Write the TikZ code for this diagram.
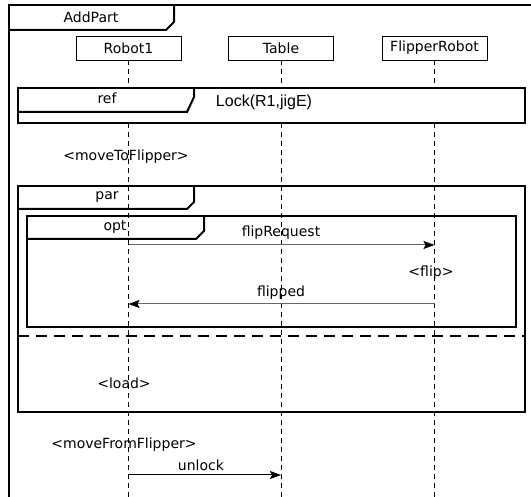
\documentclass[tikz,border=0pt]{standalone}
\usepackage{fontspec}
\setmainfont{DejaVu Sans}
\newfontfamily\lockfont{Liberation Sans}
\usetikzlibrary{arrows.meta}

\tikzset{
  lbl/.style={inner sep=0pt, font=\fontsize{14}{16}\selectfont},
  heavy/.style={line width=2pt},
  lifebox/.style={draw, line width=0.8pt, minimum width=105pt, minimum height=24pt,
    inner sep=0pt, font=\fontsize{14}{16}\selectfont, fill=white},
  lifeline/.style={line width=0.8pt, dash pattern=on 5pt off 4pt},
  msg/.style={draw=black!60, line width=1pt,
    -{Stealth[length=11pt, width=8pt, inset=2pt, color=black]}},
  sepline/.style={line width=2pt, dash pattern=on 11pt off 7pt}
}

\begin{document}
\begin{tikzpicture}[x=1pt, y=-1pt]
\useasboundingbox (0,0) rectangle (531,497);
\clip (0,0) rectangle (531,497);

% outer interaction frame and its name tab
\draw[heavy] (9,500) -- (9,5) -- (540,5);
\draw[heavy] (9,30) -- (166,30) -- (174,22) -- (174,5);
\node[lbl] (addpart) at (91,17) {AddPart};

% lifeline heads
\node[lifebox] (r1) at (128.5,48) {Robot1};
\node[lifebox] (tb) at (281,48) {Table};
\node[lifebox] (fr) at (434.5,48) {FlipperRobot};

% lifelines
\coordinate (bottom) at (0,500);
\draw[lifeline] (r1.south) -- (r1.south |- bottom);
\draw[lifeline] (tb.south) -- (tb.south |- bottom);
\draw[lifeline] (fr.south) -- (fr.south |- bottom);

% ref fragment
\draw[heavy, fill=white] (18,88) rectangle (525,123);
\draw[heavy] (18,112) -- (187,112) -- (194,97) -- (194,88);
\node[lbl] (reflbl) at (107,98) {ref};
\node[inner sep=0pt, font=\lockfont\fontsize{16}{18}\selectfont] (lock) at (264,102) {Lock(R1,jigE)};

\node[lbl] (mtf) at (126,157) {<moveToFlipper>};

% par fragment
\draw[heavy] (18,186) rectangle (525,412);
\draw[heavy] (18,209) -- (187,209) -- (194,202) -- (194,186);
\node[lbl] (parlbl) at (107,197) {par};
\draw[sepline] (18,336) -- (525,336);

% opt fragment
\draw[heavy] (27,216) rectangle (516,327);
\draw[heavy] (27,239) -- (196,239) -- (204,231) -- (204,216);
\node[lbl] (optlbl) at (115,227) {opt};

% messages
\coordinate (y1) at (0,245);
\coordinate (y2) at (0,304);
\coordinate (y3) at (0,475);
\draw[msg] (r1 |- y1) -- (fr |- y1);
\node[lbl] (m1) at (281,233) {flipRequest};
\node[lbl] (flip) at (431,273) {<flip>};
\draw[msg] (fr |- y2) -- (r1 |- y2);
\node[lbl] (m2) at (281,293) {flipped};

\node[lbl] (load) at (124,383) {<load>};
\node[lbl] (mff) at (124,445) {<moveFromFlipper>};
\draw[msg, draw=black] (r1 |- y3) -- (tb |- y3);
\node[lbl] (m3) at (201,465) {unlock};
\end{tikzpicture}
\end{document}
